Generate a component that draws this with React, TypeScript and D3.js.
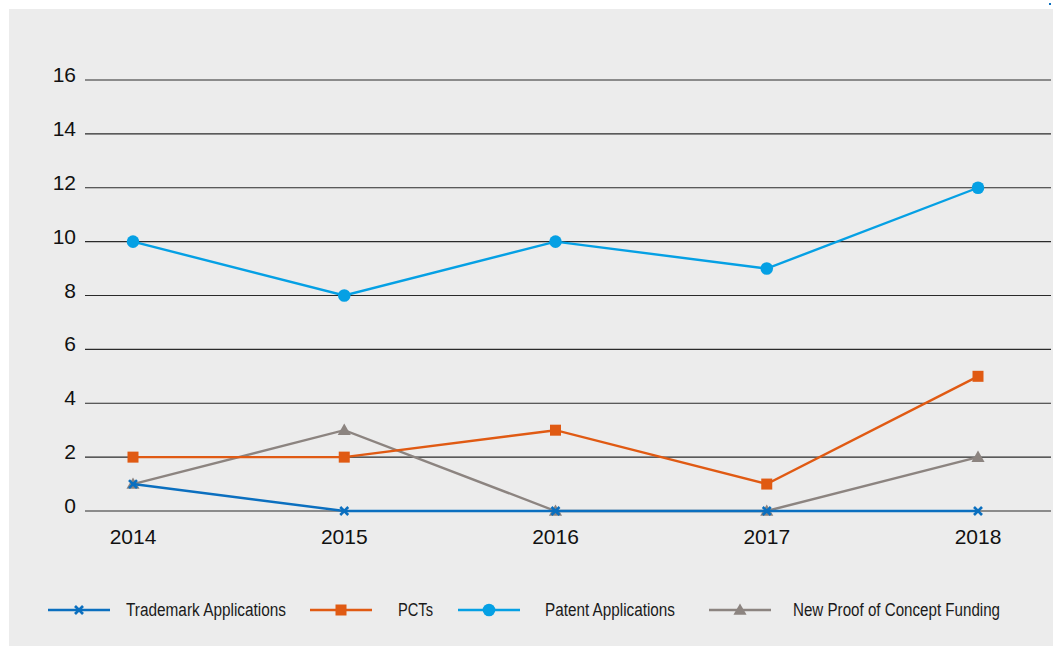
import React from 'react'
import * as d3 from 'd3'

const width = 1053
const height = 646

const years = ['2014', '2015', '2016', '2017', '2018']
const yTicks = [0, 2, 4, 6, 8, 10, 12, 14, 16]

const trademarkApplications = [1, 0, 0, 0, 0]
const pcts = [2, 2, 3, 1, 5]
const patentApplications = [10, 8, 10, 9, 12]
const proofOfConceptFunding = [1, 3, 0, 0, 2]

type Shape = 'cross' | 'square' | 'circle' | 'triangle'

const series: { name: string; values: number[]; color: string; shape: Shape }[] = [
  { name: 'Trademark Applications', values: trademarkApplications, color: '#0b6fbf', shape: 'cross' },
  { name: 'PCTs', values: pcts, color: '#e05a13', shape: 'square' },
  { name: 'Patent Applications', values: patentApplications, color: '#05a0e4', shape: 'circle' },
  { name: 'New Proof of Concept Funding', values: proofOfConceptFunding, color: '#8c8480', shape: 'triangle' },
]
// draw order: grey under the blues/orange like the original
const drawOrder = [3, 0, 1, 2]

// legend layout: line start, text start, text width (condensed face)
const legendX = [48, 310, 458, 709]
const legendTextX = [126, 398, 545, 793]
const legendTextW = [160, 35, 130, 207]

const x = d3.scalePoint<string>().domain(years).range([133, 978])
const y = d3.scaleLinear().domain([0, 16]).range([511, 80])

const lineFn = d3.line<number>()
  .x((_, i) => x(years[i]) as number)
  .y(d => y(d))

function Marker({ shape, cx, cy, color }: { shape: Shape; cx: number; cy: number; color: string }) {
  if (shape === 'square') {
    return <rect x={cx - 5.5} y={cy - 5.5} width={11} height={11} fill={color} />
  }
  if (shape === 'circle') {
    return <circle cx={cx} cy={cy} r={6.3} fill={color} />
  }
  if (shape === 'triangle') {
    return <path d={d3.symbol(d3.symbolTriangle, 75)() as string} transform={`translate(${cx},${cy + 1})`} fill={color} />
  }
  return (
    <g stroke={color} strokeWidth={2.6}>
      <line x1={cx - 4} y1={cy - 4} x2={cx + 4} y2={cy + 4} />
      <line x1={cx - 4} y1={cy + 4} x2={cx + 4} y2={cy - 4} />
    </g>
  )
}

export default function App() {
  return (
    <div style={{ position: 'absolute', left: 0, top: 0 }}>
      <svg width={width} height={height} style={{ display: 'block' }}>
        <rect x={0} y={0} width={width} height={height} fill="#ffffff" />
        <rect x={9} y={9} width={width - 9} height={height - 9} fill="#ececec" />
        <rect x={1049} y={3} width={2} height={2} fill="#0b6fbf" />

        <g fontFamily="'Liberation Sans', Arial, sans-serif" fontSize={21} fill="#111">
          {yTicks.map(t => (
            <g key={t}>
              <line x1={85} x2={1051} y1={y(t)} y2={y(t)} stroke="#2a2a2a" strokeWidth={1.1} />
              <text x={76} y={y(t) + 2} textAnchor="end">{t}</text>
            </g>
          ))}
          {years.map(yr => (
            <text key={yr} x={x(yr)} y={544} textAnchor="middle">{yr}</text>
          ))}
        </g>

        {drawOrder.map(i => {
          const s = series[i]
          return (
            <g key={s.name}>
              <path d={lineFn(s.values) as string} fill="none" stroke={s.color} strokeWidth={2.4} />
              {s.values.map((v, j) => (
                <Marker key={j} shape={s.shape} cx={x(years[j]) as number} cy={y(v)} color={s.color} />
              ))}
            </g>
          )
        })}

        <g fontFamily="'Liberation Sans', Arial, sans-serif" fontSize={18} fill="#1a1a1a">
          {series.map((s, i) => (
            <g key={s.name}>
              <line x1={legendX[i]} x2={legendX[i] + 62} y1={610} y2={610} stroke={s.color} strokeWidth={2.4} />
              <Marker shape={s.shape} cx={legendX[i] + 31} cy={610} color={s.color} />
              <text x={legendTextX[i]} y={616} textLength={legendTextW[i]} lengthAdjust="spacingAndGlyphs">{s.name}</text>
            </g>
          ))}
        </g>
      </svg>
    </div>
  )
}
